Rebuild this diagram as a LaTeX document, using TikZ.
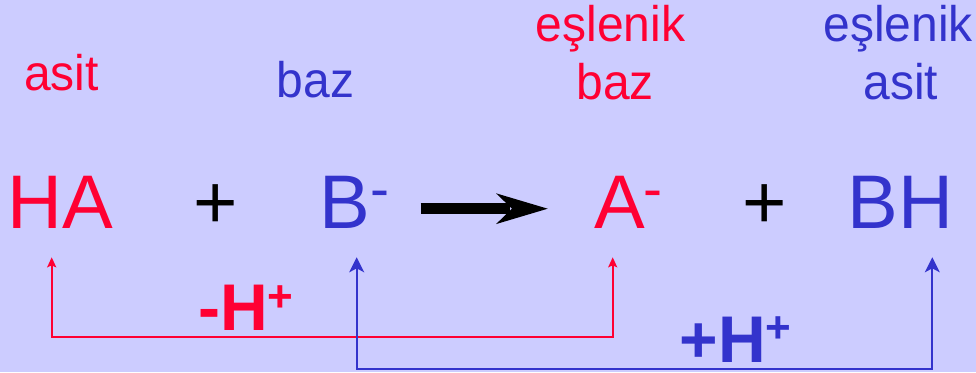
\documentclass[tikz,border=0pt]{standalone}
\usepackage{fontspec}
\setmainfont{Liberation Sans}
\usetikzlibrary{arrows.meta}
\definecolor{bgc}{HTML}{CCCCFF}
\definecolor{rc}{HTML}{FF0033}
\definecolor{bc}{HTML}{3333CC}
\newcommand{\nw}[1]{\scalebox{0.96}[1]{#1}}
\newcommand{\supm}{\raisebox{20pt}{\fontsize{57}{57}\selectfont -}}
\newcommand{\supp}[1]{\raisebox{#1}{\fontsize{44}{44}\selectfont +}}
\begin{document}
\begin{tikzpicture}[x=1pt,y=-1pt,
  chem/.style={inner sep=0pt, anchor=base west, font=\fontsize{76}{80}\selectfont},
  plussign/.style={inner sep=0pt, anchor=base, font=\fontsize{76}{80}\selectfont},
  lbl/.style={inner sep=0pt, anchor=base, font=\fontsize{50}{57.6}\selectfont},
  hlbl/.style={inner sep=0pt, anchor=base west, text depth=0pt, font=\bfseries\fontsize{66}{70}\selectfont},
  redline/.style={draw=rc, line width=2pt, {Stealth[length=10pt,width=9pt,inset=2pt]}-{Stealth[length=10pt,width=9pt,inset=2pt]}},
  blueline/.style={draw=bc, line width=2.2pt, {Stealth[length=15pt,width=15pt,inset=4pt]}-{Stealth[length=15pt,width=15pt,inset=4pt]}}
]
\useasboundingbox (0,0) rectangle (976,372);
\fill[bgc] (0,0) rectangle (976,372);

% top labels
\node[lbl, text=rc] (lHA) at (61.4,90) {\nw{asit}};
\node[lbl, text=bc] (lB) at (315.5,97.3) {\nw{baz}};
\node[lbl, text=rc] (lAa) at (610.5,41.7) {\nw{eşlenik}};
\node[lbl, text=rc] (lAb) at (615.3,99.3) {\nw{baz}};
\node[lbl, text=bc] (lBHa) at (898.3,41.7) {\nw{eşlenik}};
\node[lbl, text=bc] (lBHb) at (900.8,99.3) {\nw{asit}};

% equation
\node[chem, text=rc] (HA) at (7.2,228) {HA};
\node[plussign] (p1) at (216,228) {+};
\node[chem, text=bc] (B) at (319.4,228) {B\supm};
\node[chem, text=rc] (A) at (594.1,228) {A\kern-2pt\supm};
\node[plussign] (p2) at (764.7,228) {+};
\node[chem, text=bc] (BH) at (847.7,228) {BH};

% reaction arrow
\coordinate (ar0) at (420.7,208.7);
\coordinate (ar1) at (547.7,208.7);
\draw[line width=10.7pt] (ar0) -- ([xshift=-38pt]ar1);
\fill (ar1) -- ++(-51.7,-15.4) -- ++(16,15.4) -- ++(-16,15.4) -- cycle;

% proton transfer connectors
\coordinate (rL) at (51.7,257.3);
\coordinate (rR) at (612.7,257.3);
\coordinate (rY) at (0,336.7);
\draw[redline] (rL) -- (rL |- rY) -- (rR |- rY) -- (rR);

\coordinate (bL) at (356.7,257.3);
\coordinate (bR) at (932.3,257.3);
\coordinate (bY) at (0,368.7);
\draw[blueline] (bL) -- (bL |- bY) -- (bR |- bY) -- (bR);

% H+ labels
\node[hlbl, text=rc] (mH) at (198,330) {-H\supp{18.8pt}};
\node[hlbl, text=bc] (pH) at (679.3,362) {+H\supp{19.4pt}};
\end{tikzpicture}
\end{document}
